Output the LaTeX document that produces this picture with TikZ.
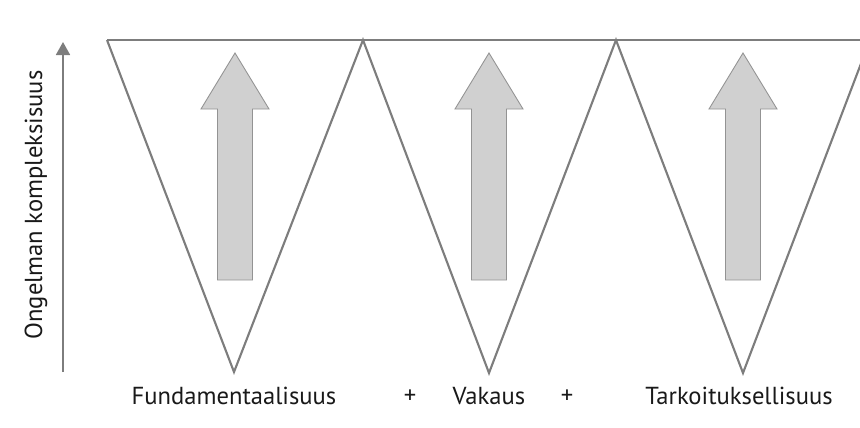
\documentclass[tikz,border=0pt]{standalone}
\usepackage{fontspec}
\setmainfont{PT Sans}
\usetikzlibrary{arrows.meta}
\definecolor{linegray}{RGB}{125,125,125}
\definecolor{arrowfill}{RGB}{208,208,208}
\begin{document}
\begin{tikzpicture}[x=0.02cm, y=-0.02cm, every node/.style={font=\fontsize{14}{16}\selectfont,text=black!90,inner sep=0pt},
  tri/.style={draw=linegray,line width=1.2pt,line join=miter},
  blockarrow/.style={draw=gray!85,fill=arrowfill,line width=0.5pt},
  axis/.style={draw=linegray,line width=1pt,-{Triangle[length=2.6mm,width=2.8mm]}}]
\clip (0,0) rectangle (860,427);
\coordinate (t0) at (107,40); \coordinate (t1) at (363,40); \coordinate (t2) at (616,40); \coordinate (t3) at (870,40);
\coordinate (a1) at (234,372); \coordinate (a2) at (489,373); \coordinate (a3) at (743,373);
\draw[tri] (t0) -- (a1) -- (t1) -- (a2) -- (t2) -- (a3) -- (t3);
\draw[tri] (t0) -- (t3);
% block arrows inside the triangles
\draw[blockarrow] (217.5,280) -- ++(0,-171) -- ++(-16.5,0) -- ++(34,-56) -- ++(34,56) -- ++(-16.5,0) -- ++(0,171) -- cycle;
\draw[blockarrow] (471.5,280) -- ++(0,-171) -- ++(-16.5,0) -- ++(34,-56) -- ++(34,56) -- ++(-16.5,0) -- ++(0,171) -- cycle;
\draw[blockarrow] (725.5,280) -- ++(0,-171) -- ++(-16.5,0) -- ++(34,-56) -- ++(34,56) -- ++(-16.5,0) -- ++(0,171) -- cycle;
% axis
\coordinate (ybot) at (63,372); \coordinate (ytop) at (63,42);
\draw[axis] (ybot) -- (ytop);
\node[rotate=90] (ylabel) at (36,205) {Ongelman kompleksisuus};
% labels
\node (fund) at (234,396) {Fundamentaalisuus};
\node (plus1) at (410,397) {+};
\node (vak) at (489,396) {Vakaus};
\node (plus2) at (567,397) {+};
\node (tark) at (739,396) {Tarkoituksellisuus};
\end{tikzpicture}
\end{document}
